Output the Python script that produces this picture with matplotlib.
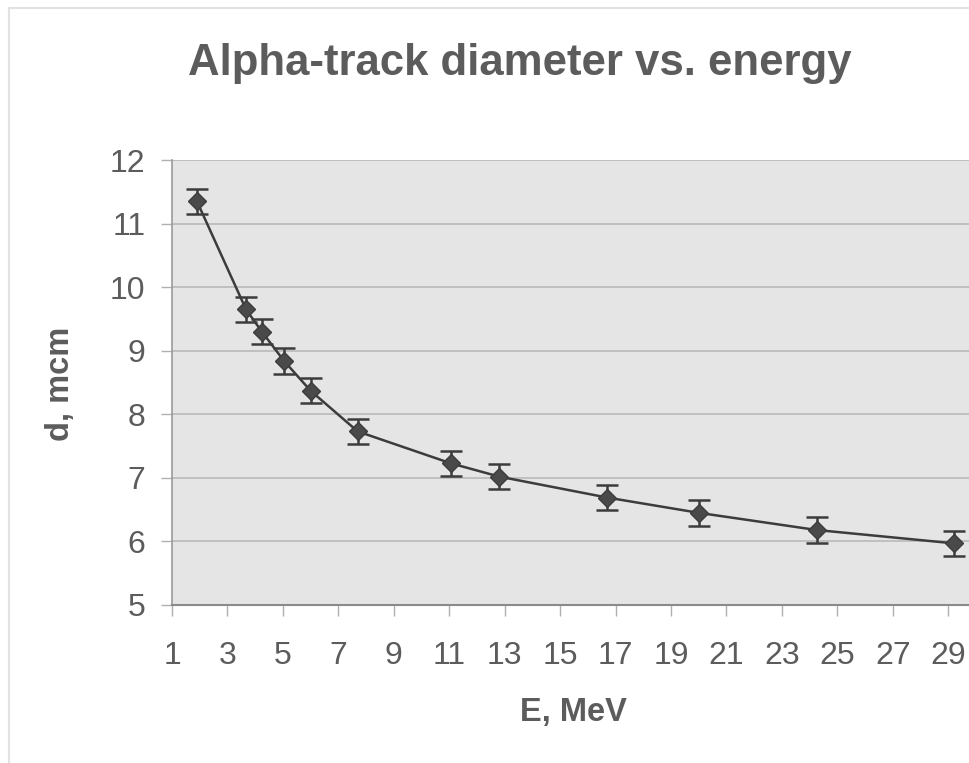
import matplotlib.pyplot as plt
from matplotlib.patches import Rectangle

# Dados
energia = [1.9, 3.67, 4.24, 5.04, 6.0, 7.7, 11.05, 12.8, 16.7, 20.0, 24.25, 29.2]
diametro = [11.35, 9.65, 9.30, 8.84, 8.37, 7.73, 7.23, 7.02, 6.69, 6.45, 6.18, 5.97]
erro = [0.2] * len(energia)

cinza_texto = '#5c5c5c'

fig = plt.figure(figsize=(9.69, 7.63), dpi=100)
fig.patch.set_facecolor('white')

# Moldura clara em volta da figura
fig.patches.append(Rectangle((9 / 969, -0.05), 1.2, 1.05 - 8 / 763, transform=fig.transFigure,
                             fill=False, edgecolor='#e2e2e2', linewidth=1.5))

ax = fig.add_axes([172 / 969, (763 - 605) / 763, (969 - 172) / 969, 445 / 763])
ax.set_facecolor('#e5e5e5')

ax.errorbar(energia, diametro, yerr=erro, fmt='-D', color='#3c3c3c', markersize=9,
            markerfacecolor='#4a4a4a', markeredgecolor='#3c3c3c', linewidth=1.8,
            elinewidth=1.8, capsize=8, capthick=1.8, zorder=3)

ax.set_xlim(1, 29.75)
ax.set_ylim(5, 12)
ax.set_xticks(range(1, 30, 2))
ax.set_yticks(range(5, 13))

ax.grid(axis='y', color='#b9b9b9', linewidth=1.2)
ax.set_axisbelow(True)

for lado in ['top', 'right']:
    ax.spines[lado].set_visible(False)
ax.spines['left'].set_color('#9a9a9a')
ax.spines['bottom'].set_color('#8a8a8a')
ax.spines['left'].set_linewidth(1.2)
ax.spines['bottom'].set_linewidth(1.5)

ax.tick_params(axis='both', colors='#b0b0b0', length=8, width=1, labelsize=23,
               labelcolor=cinza_texto)
ax.tick_params(axis='y', pad=11)
ax.tick_params(axis='x', pad=18)

for lbl in ax.get_xticklabels() + ax.get_yticklabels():
    lbl.set_family('Liberation Sans')

ax.set_xlabel('E, MeV', fontsize=23.5, fontweight='bold', color=cinza_texto,
              family='Liberation Sans', va='center')
ax.set_ylabel('d, mcm', fontsize=23.5, fontweight='bold', color=cinza_texto,
              family='Liberation Sans', va='center')
ax.xaxis.set_label_coords((573 - 172) / 797, (605 - 712) / 445)
ax.yaxis.set_label_coords((61 - 172) / 797, (605 - 384) / 445)

fig.text(520 / 969, 1 - 75 / 763, 'Alpha-track diameter vs. energy', ha='center', va='baseline',
         fontsize=31.5, fontweight='bold', color=cinza_texto, family='Liberation Sans')

fig.savefig('out.png', dpi=100)
